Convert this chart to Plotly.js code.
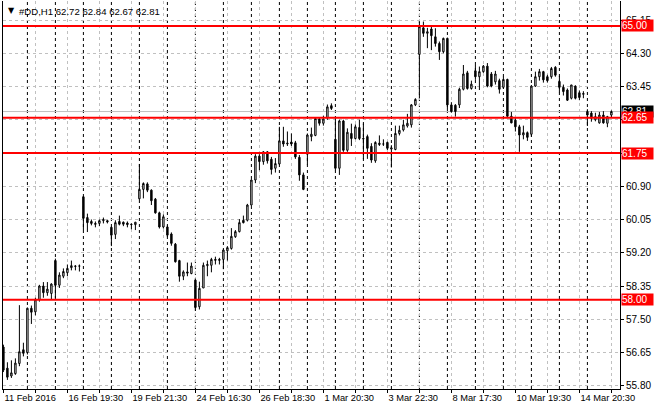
<!DOCTYPE html>
<html>
<head>
<meta charset="utf-8">
<script src="https://cdn.plot.ly/plotly-3.0.1.min.js"></script>
<style>
  html, body { margin: 0; padding: 0; background: #fff; }
  #chart { width: 660px; height: 410px; }
</style>
</head>
<body>
<div id="chart"></div>
<script>
var symbol = '#DD,H1';

// H1 bars, one session (7 bars) per row after the first partial day
var barOpen = [
  56.79, 56.25, 56.05, 56.11, 56.37, 56.72,
  56.65, 57.78, 57.69, 58.00, 58.35, 58.18, 58.16,
  59.00, 58.37, 58.60, 58.69, 58.82, 58.85, 58.86,
  60.63, 60.10, 60.00, 59.95, 59.95, 60.02, 60.02,
  59.85, 59.67, 60.00, 59.98, 59.96, 59.93, 59.92,
  60.58, 60.82, 60.96, 60.80, 60.57, 60.22, 59.86,
  59.86, 59.68, 59.42, 59.00, 58.60, 58.71, 58.67,
  58.50, 57.82, 58.30, 58.87, 58.88, 59.03, 59.03,
  59.03, 59.25, 59.31, 59.61, 59.74, 60.03, 60.03,
  60.42, 61.06, 61.67, 61.53, 61.78, 61.59, 61.36,
  61.47, 62.06, 61.98, 62.03, 62.01, 61.64, 61.19,
  61.72, 62.17, 62.20, 62.62, 62.51, 62.65, 62.96,
  62.10, 61.36, 62.57, 61.82, 62.25, 62.12, 62.40,
  62.12, 62.17, 61.92, 61.55, 62.00, 61.98, 62.02,
  61.85, 61.84, 62.25, 62.34, 62.44, 62.47, 62.98,
  64.27, 64.95, 64.81, 64.92, 64.72, 64.55, 64.34,
  64.68, 62.98, 62.97, 62.98, 63.38, 63.80, 63.40,
  63.85, 63.70, 63.83, 63.97, 63.77, 63.57, 63.60,
  63.43, 63.63, 62.69, 62.59, 62.42, 62.21, 62.27,
  62.23, 63.46, 63.70, 63.83, 63.70, 63.70, 63.94,
  63.58, 63.43, 63.36, 63.15, 63.46, 63.29, 63.25,
  62.81, 62.77, 62.60, 62.52, 62.72, 62.51, 62.72
];
var barHigh = [
  56.85, 56.40, 56.45, 56.50, 57.86, 56.90,
  57.80, 57.85, 58.05, 58.38, 58.45, 58.45, 58.42,
  59.05, 58.70, 58.80, 58.90, 59.00, 58.88, 58.90,
  60.65, 60.20, 60.05, 60.00, 60.05, 60.10, 60.03,
  59.87, 60.03, 60.15, 60.00, 60.00, 59.95, 59.99,
  61.47, 61.00, 61.00, 60.82, 60.60, 60.25, 60.18,
  59.90, 59.72, 59.45, 59.02, 58.75, 58.95, 58.95,
  58.54, 58.46, 58.95, 59.00, 59.07, 59.10, 59.07,
  59.28, 59.37, 59.83, 59.78, 60.06, 60.15, 60.45,
  61.08, 61.72, 61.72, 61.80, 61.80, 61.65, 61.62,
  62.42, 62.42, 62.30, 62.25, 62.06, 61.70, 61.25,
  62.25, 62.40, 62.66, 62.66, 62.70, 62.99, 63.02,
  62.62, 62.60, 62.60, 62.38, 62.50, 62.48, 62.60,
  62.50, 62.22, 62.00, 62.05, 62.20, 62.10, 62.04,
  61.95, 62.45, 62.45, 62.60, 62.75, 63.00, 63.15,
  65.12, 65.11, 64.95, 64.98, 64.94, 64.60, 64.70,
  64.70, 63.05, 63.00, 63.42, 64.00, 63.85, 63.60,
  64.00, 63.96, 64.00, 64.05, 63.82, 63.85, 63.65,
  63.70, 63.65, 62.80, 62.64, 62.47, 62.45, 62.30,
  63.49, 63.83, 63.90, 63.85, 63.75, 63.95, 63.97,
  63.72, 63.50, 63.40, 63.49, 63.48, 63.35, 63.33,
  62.87, 62.82, 62.78, 62.80, 62.82, 62.70, 62.84
];
var barLow = [
  56.15, 55.95, 56.00, 56.08, 56.30, 56.55,
  56.60, 57.38, 57.60, 57.95, 58.05, 58.10, 58.00,
  58.04, 58.30, 58.55, 58.60, 58.75, 58.75, 58.72,
  59.78, 59.73, 59.90, 59.85, 59.88, 59.95, 59.95,
  59.37, 59.55, 59.90, 59.88, 59.85, 59.80, 59.78,
  60.55, 60.59, 60.75, 60.42, 60.20, 59.82, 59.82,
  59.60, 59.38, 58.95, 58.46, 58.50, 58.60, 58.65,
  57.72, 57.75, 58.30, 58.60, 58.70, 58.90, 58.90,
  58.78, 59.00, 59.28, 59.58, 59.72, 59.95, 60.00,
  60.40, 60.98, 61.31, 61.45, 61.48, 61.20, 61.25,
  61.45, 61.91, 61.93, 61.93, 61.60, 61.04, 60.80,
  61.45, 62.05, 62.18, 62.45, 62.45, 62.60, 62.85,
  61.31, 61.19, 61.78, 61.78, 61.93, 62.10, 62.08,
  61.60, 61.60, 61.50, 61.50, 61.93, 61.93, 61.82,
  61.38, 61.82, 62.20, 62.30, 62.40, 62.40, 62.95,
  63.15, 64.72, 64.43, 64.38, 64.47, 64.13, 64.30,
  62.85, 62.78, 62.68, 62.90, 63.35, 63.37, 63.37,
  63.62, 63.36, 63.80, 63.43, 63.43, 63.50, 63.27,
  63.40, 62.64, 62.51, 62.30, 61.78, 62.10, 62.06,
  62.17, 63.44, 63.60, 63.55, 63.55, 63.65, 63.70,
  63.30, 63.22, 63.08, 63.12, 63.12, 63.10, 63.15,
  62.44, 62.55, 62.56, 62.50, 62.50, 62.41, 62.67
];
var barClose = [
  56.20, 56.02, 56.13, 56.38, 56.67, 56.63,
  57.78, 57.68, 58.00, 58.35, 58.18, 58.27, 58.40,
  58.37, 58.63, 58.72, 58.80, 58.87, 58.86, 58.86,
  60.08, 59.97, 59.95, 59.93, 60.02, 60.05, 59.99,
  59.65, 59.97, 59.93, 59.93, 59.92, 59.92, 59.98,
  60.82, 60.97, 60.80, 60.53, 60.22, 59.86, 60.12,
  59.65, 59.44, 58.97, 58.60, 58.71, 58.68, 58.86,
  57.80, 58.29, 58.88, 58.90, 59.03, 59.01, 59.01,
  59.27, 59.33, 59.62, 59.74, 59.97, 59.97, 60.42,
  61.06, 61.67, 61.53, 61.78, 61.55, 61.33, 61.48,
  62.06, 61.98, 62.00, 61.98, 61.65, 61.19, 60.82,
  62.21, 62.23, 62.63, 62.51, 62.62, 62.93, 62.89,
  61.36, 62.57, 61.82, 62.28, 62.12, 62.42, 62.12,
  62.11, 61.87, 61.57, 62.02, 61.97, 61.98, 61.87,
  61.88, 62.25, 62.33, 62.47, 62.51, 62.98, 63.12,
  64.98, 64.81, 64.85, 64.75, 64.55, 64.34, 64.68,
  62.98, 62.81, 62.81, 63.38, 63.77, 63.40, 63.51,
  63.70, 63.83, 63.97, 63.46, 63.46, 63.77, 63.38,
  63.63, 62.69, 62.52, 62.42, 62.21, 62.27, 62.15,
  63.46, 63.70, 63.83, 63.62, 63.60, 63.91, 63.74,
  63.43, 63.32, 63.10, 63.49, 63.15, 63.17, 63.27,
  62.72, 62.64, 62.68, 62.72, 62.52, 62.68, 62.81
];

var tickIdx = [0, 16, 32, 48, 64, 80, 96, 112, 128, 144];
var tickText = ['11 Feb 2016', '16 Feb 19:30', '19 Feb 21:30', '24 Feb 16:30', '26 Feb 18:30',
                '1 Mar 20:30', '3 Mar 22:30', '8 Mar 17:30', '10 Mar 19:30', '14 Mar 20:30'];
var dayStarts = [6, 13, 20, 27, 34, 41, 48, 55, 62, 69, 76, 83, 90, 97, 104, 111, 118, 125, 132, 139, 146];
var priceTicks = [55.80, 56.65, 57.50, 58.35, 59.20, 60.05, 60.90, 61.75, 62.60, 63.45, 64.30, 65.15];
var levels = [65.00, 62.65, 61.75, 58.00];

var FONT = 'Liberation Sans, Arial, sans-serif';
var last = barClose.length - 1;
var bid = barClose[last];
var barIdx = barOpen.map(function (v, i) { return i; });

// gray grid every 8 bars, date labels on every other one
var gridVals = [], gridText = [];
for (var g = 0; g <= last; g += 8) {
  gridVals.push(g);
  var k = tickIdx.indexOf(g);
  gridText.push(k >= 0 ? tickText[k] : '');
}

var shapes = [];
dayStarts.forEach(function (d) {
  shapes.push({type: 'line', layer: 'below', xref: 'x', yref: 'paper', x0: d, x1: d, y0: 0, y1: 1,
               line: {color: '#000', width: 1, dash: '3px,3px'}});
});
shapes.push({type: 'line', layer: 'below', xref: 'paper', yref: 'y', x0: 0, x1: 1, y0: bid, y1: bid,
             line: {color: '#c0c0c0', width: 1}});
levels.forEach(function (lv) {
  shapes.push({type: 'line', layer: 'above', xref: 'paper', yref: 'y', x0: 0, x1: 1, y0: lv, y1: lv,
               line: {color: '#ff0000', width: 2}});
});

function priceLabel(value, bg) {
  return {xref: 'paper', yref: 'y', x: 1, y: value, xanchor: 'left', yanchor: 'middle', xshift: 1,
          text: value.toFixed(2), showarrow: false, bgcolor: bg, borderpad: 0, width: 31, height: 11,
          align: 'left', font: {family: FONT, size: 10, color: '#fff'}};
}

var annotations = [priceLabel(bid, '#000')];
levels.forEach(function (lv) { annotations.push(priceLabel(lv, '#ff0000')); });

var header = symbol + ' ' + [barOpen[last], barHigh[last], barLow[last], barClose[last]]
  .map(function (v) { return v.toFixed(2); }).join(' ');
annotations.push({xref: 'paper', yref: 'paper', x: 0, y: 1, xanchor: 'left', yanchor: 'middle',
                  xshift: 3, yshift: -9, text: '\u25BC', showarrow: false,
                  font: {family: 'DejaVu Sans', size: 8, color: '#000'}});
annotations.push({xref: 'paper', yref: 'paper', x: 0, y: 1, xanchor: 'left', yanchor: 'middle',
                  xshift: 14, yshift: -10, text: header, showarrow: false,
                  font: {family: FONT, size: 9.6, color: '#000'}});

var trace = {
  type: 'candlestick',
  x: barIdx,
  open: barOpen,
  high: barHigh,
  low: barLow,
  close: barClose,
  whiskerwidth: 0,
  increasing: {line: {color: '#000', width: 1}, fillcolor: '#ffffff'},
  decreasing: {line: {color: '#000', width: 1}, fillcolor: '#000000'},
  hoverinfo: 'skip',
  showlegend: false
};

var layout = {
  width: 660,
  height: 410,
  margin: {l: 3, r: 40, t: 1, b: 21, pad: 0},
  paper_bgcolor: '#fff',
  plot_bgcolor: '#fff',
  boxgap: 0.5,
  showlegend: false,
  font: {family: FONT, size: 10, color: '#000'},
  xaxis: {
    type: 'linear',
    range: [-0.1, 154.15],
    rangeslider: {visible: false},
    tickmode: 'array',
    tickvals: gridVals,
    ticktext: gridText,
    tickangle: 0,
    ticklabelposition: 'outside right',
    ticks: 'outside',
    ticklen: 3,
    tickcolor: '#000',
    showline: true,
    linecolor: '#000',
    linewidth: 1,
    showgrid: true,
    gridcolor: '#c0c0c0',
    griddash: '3px,3px',
    zeroline: false,
    tickfont: {family: FONT, size: 9.3, color: '#000'}
  },
  yaxis: {
    side: 'right',
    range: [55.717, 65.636],
    tickmode: 'array',
    tickvals: priceTicks,
    ticktext: priceTicks.map(function (v) { return v.toFixed(2); }),
    ticks: 'outside',
    ticklen: 3,
    tickcolor: '#000',
    showline: true,
    mirror: true,
    linecolor: '#000',
    linewidth: 1,
    showgrid: true,
    gridcolor: '#c0c0c0',
    griddash: '3px,3px',
    zeroline: false,
    tickfont: {family: FONT, size: 10, color: '#000'}
  },
  shapes: shapes,
  annotations: annotations
};

Plotly.newPlot('chart', [trace], layout, {displayModeBar: false, staticPlot: true});
</script>
</body>
</html>
